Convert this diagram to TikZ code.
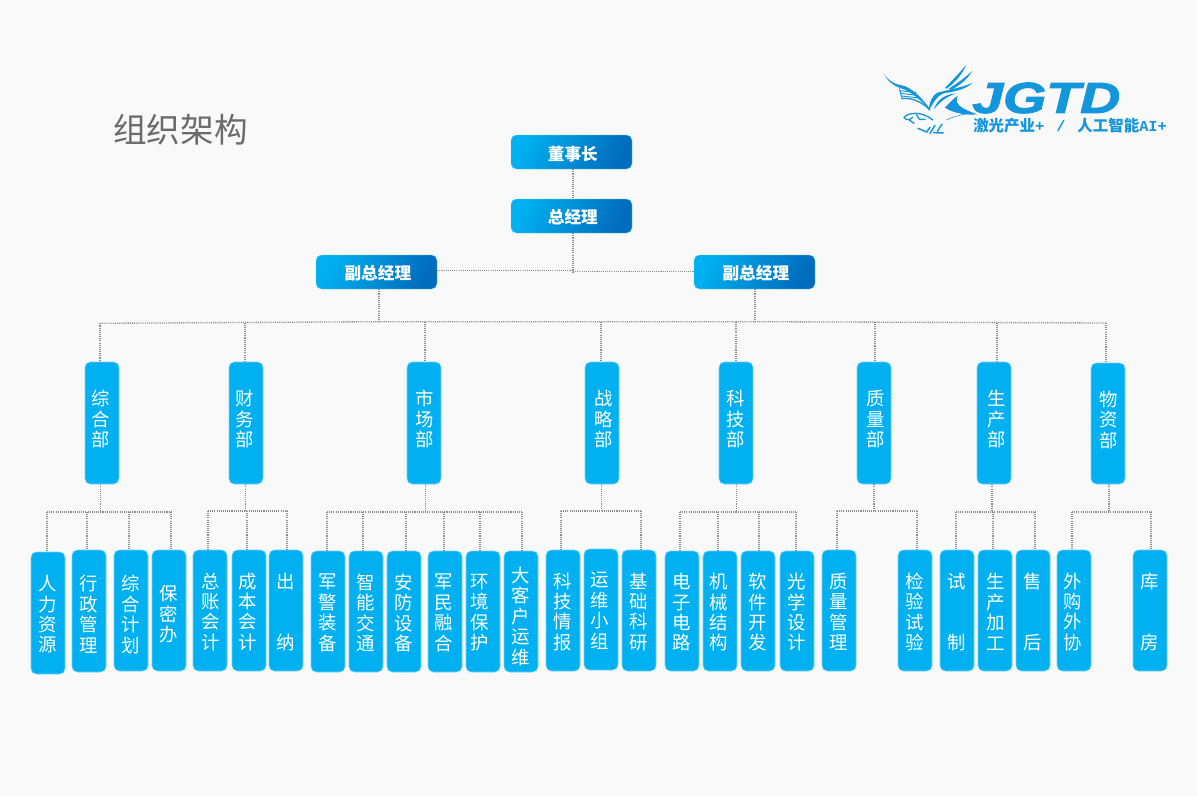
\documentclass[tikz,border=0pt]{standalone}
\usepackage{fontspec}
\setmainfont{Noto Sans CJK SC}
\newfontfamily\logofont{Liberation Sans}[BoldItalicFeatures={FakeBold=2.2}]
\newfontfamily\monofont{Liberation Mono}
\usetikzlibrary{calc}
\definecolor{bgc}{HTML}{F9F9F9}
\definecolor{boxc}{HTML}{00B0F0}
\definecolor{boxedge}{HTML}{6FD3F7}
\definecolor{darkc}{HTML}{006CBC}
\definecolor{logoc}{HTML}{1396DB}
\definecolor{linec}{HTML}{8C8C8C}
\definecolor{titlec}{HTML}{6A6A6A}
% dx (px), dy (pt), lines
\newcommand\VT[3]{\makebox[0pt][c]{\kern#1\dimexpr1.5pt\relax\raisebox{\dimexpr#2-4.55pt\relax}[0pt][0pt]{\parbox[c]{24pt}{\lineskiplimit=-100pt\baselineskip=15.35pt\parindent=0pt\centering #3\par}}}}
\newcommand\TT[2]{\kern2pt\raisebox{#1}[0pt][0pt]{#2}}
\newcommand\BL{\mbox{}}
\tikzset{
  conn/.style={draw=linec,line width=1pt,dash pattern=on 0.8pt off 0.8pt},
  bluebox/.style={fill=boxc,draw=boxedge,line width=0.4pt,rounded corners=4pt,inner sep=0pt,text=white,
     font=\fontsize{13.8}{15.35}\selectfont},
  topbox/.style={left color=boxc,right color=darkc,shading angle=65,draw=boxedge,line width=0.3pt,rounded corners=4pt,
     inner sep=0pt,text=white,font=\fontsize{12.5}{14}\selectfont\bfseries,minimum width=90.75pt,minimum height=25.5pt},
  logopen/.style={draw=logoc,line width=0.7pt,line cap=round,fill=none},
  logofill/.style={fill=logoc,draw=none}
}
\newcommand\Unit[7]{% name, l, t, b, dx(px), dy(pt), text
  \node[bluebox,minimum width=25.5pt,minimum height={(#4-#3)*0.75pt}] (#1) at ({#2+17},{(#3+#4)/2}) {\VT{#5}{#6}{#7}};}
\newcommand\Top[5]{% name, cx, cy, raise, text
  \node[topbox] (#1) at (#2,#3) {\TT{#4}{#5}};}
% parent, trunk x, bus y, bus left, bus right, drops
\newcommand\Group[6]{%
  \coordinate (tr) at (#2,#3);
  \coordinate (bl) at (#4,#3);
  \coordinate (br) at (#5,#3);
  \draw[conn] (#1.south -| tr) -- (tr);
  \draw[conn] (bl) -- (br);
  \foreach \n/\xx in {#6} {
    \coordinate (dp) at (\xx,#3);
    \draw[conn] (dp) -- (dp |- \n.north);
  }
}
\begin{document}
\begin{tikzpicture}[x=0.75pt,y=-0.75pt]
\fill[bgc] (0,0) rectangle (1197,796);
\useasboundingbox (0,0) rectangle (1197,796);

\node[text=titlec,font=\fontsize{25.2}{30}\selectfont,inner sep=0pt] (title) at (180.5,130) {组织架构};

% top
\Top{dsz}{571.5}{152}{-6.4pt}{董事长}
\Top{zjl}{571.5}{216}{-5.4pt}{总经理}
\Top{vpl}{376.5}{272}{-5.6pt}{副总经理}
\Top{vpr}{754.5}{272}{-5.6pt}{副总经理}

% departments
\Unit{d1}{85}{362}{484}{-1}{3.75pt}{综\\合\\部}
\Unit{d2}{229}{362}{484}{-1}{3.75pt}{财\\务\\部}
\Unit{d3}{407}{362}{484}{1}{3.75pt}{市\\场\\部}
\Unit{d4}{585}{362}{484}{1.5}{3.75pt}{战\\略\\部}
\Unit{d5}{719}{362}{484}{0}{3.75pt}{科\\技\\部}
\Unit{d6}{857}{362}{484}{1.5}{3.75pt}{质\\量\\部}
\Unit{d7}{977}{362}{484}{2.5}{3.75pt}{生\\产\\部}
\Unit{d8}{1091}{363}{484}{1}{3.75pt}{物\\资\\部}

% leaves
\Unit{a1}{31}{552}{674}{0}{0pt}{人\\力\\资\\源}
\Unit{a2}{72}{550}{672}{0}{-1.5pt}{行\\政\\管\\理}
\Unit{a3}{114}{550}{671}{0}{-1.9pt}{综\\合\\计\\划}
\Unit{a4}{152}{550}{671}{-0.7}{-1.9pt}{保\\密\\办}
\Unit{b1}{193}{550}{671}{1}{0pt}{总\\账\\会\\计}
\Unit{b2}{232}{550}{671}{-1}{0pt}{成\\本\\会\\计}
\Unit{b3}{269}{550}{671}{0}{0pt}{出\\\BL\\\BL\\纳}
\Unit{c1}{311}{551}{672}{0}{0pt}{军\\警\\装\\备}
\Unit{c2}{349}{551}{672}{0}{0pt}{智\\能\\交\\通}
\Unit{c3}{387}{551}{672}{0}{0pt}{安\\防\\设\\备}
\Unit{c4}{428}{551}{672}{-1}{0pt}{军\\民\\融\\合}
\Unit{c5}{466}{551}{672}{-3}{0pt}{环\\境\\保\\护}
\Unit{c6}{504}{551}{672}{0}{-2.6pt}{大\\客\\户\\运\\维}
\Unit{e1}{546}{550}{671}{0}{0pt}{科\\技\\情\\报}
\Unit{e2}{584}{549}{670}{-1}{0pt}{运\\维\\小\\组}
\Unit{e3}{622}{550}{671}{0}{0pt}{基\\础\\科\\研}
\Unit{f1}{665}{551}{671}{0}{0pt}{电\\子\\电\\路}
\Unit{f2}{703}{551}{671}{-1}{0pt}{机\\械\\结\\构}
\Unit{f3}{741}{551}{671}{0}{0pt}{软\\件\\开\\发}
\Unit{f4}{780}{551}{671}{0}{0pt}{光\\学\\设\\计}
\Unit{g1}{822}{550}{671}{0}{0pt}{质\\量\\管\\理}
\Unit{g2}{898}{550}{671}{0}{0pt}{检\\验\\试\\验}
\Unit{h1}{940}{550}{671}{0}{0pt}{试\\\BL\\\BL\\制}
\Unit{h2}{978}{550}{671}{1}{0pt}{生\\产\\加\\工}
\Unit{h3}{1016}{550}{671}{-0.7}{0pt}{售\\\BL\\\BL\\后}
\Unit{i1}{1057}{550}{671}{-1}{0pt}{外\\购\\外\\协}
\Unit{i2}{1133}{550}{671}{-0.7}{0pt}{库\\\BL\\\BL\\房}

% upper connectors
\coordinate (hub) at (573,271.7);
\coordinate (hubl) at (573,270.5);
\draw[conn] (dsz.south -| hub) -- (zjl.north -| hub);
\draw[conn] (zjl.south -| hub) -- (hub);
\draw[conn] (vpl.east |- hubl) -- (hubl);
\draw[conn] (hub) -- (vpr.west |- hub);
\coordinate (busl) at (100,323.3);
\coordinate (busa) at (379,321.7);
\coordinate (busb) at (755,321.7);
\coordinate (busr) at (1106,323);
\draw[conn] (vpl.south -| busa) -- (busa);
\draw[conn] (vpr.south -| busb) -- (busb);
\draw[conn] (busl) -- (busa) -- (busb) -- (busr);
\foreach \n/\xx/\yy in {d1/100/323.3,d2/245/322.5,d3/425/321.7,d4/601/321.7,d5/736/321.7,d6/875/322,d7/997/322.5,d8/1106/323}{
  \coordinate (dp) at (\xx,\yy);
  \draw[conn] (dp) -- (dp |- \n.north);
}

% lower connectors
\Group{d1}{100.5}{512}{47}{171}{a1/47,a2/87,a3/129,a4/171}
\Group{d2}{245.5}{511}{208}{287}{b1/208,b2/247,b3/287}
\Group{d3}{425.5}{512}{327}{522}{c1/327,c2/363,c3/406,c4/444,c5/480,c6/522}
\Group{d4}{601.5}{511}{561}{641}{e1/561,e3/641}
\Group{d5}{736.5}{512}{680}{796}{f1/680,f2/718,f3/759,f4/796}
\Group{d6}{874}{511}{837}{917}{g1/837,g2/917}
\Group{d7}{992}{512}{956}{1035}{h1/956,h2/993,h3/1035}
\Group{d8}{1109}{512}{1072}{1151}{i1/1072,i2/1151}

% logo text
\node[anchor=west,inner sep=0pt,text=logoc,font=\fontsize{32.5}{34}\logofont\bfseries\itshape\selectfont] (jgtd) at (972,98) {\scalebox{1.28}[1]{JGTD}};
\node[anchor=west,inner sep=0pt,text=logoc,font=\fontsize{11.6}{13}\selectfont\bfseries] (slog) at (973,125.5) {激光产业{\monofont +\, / \,}人工智能{\monofont\fontsize{11.5}{13}\selectfont AI+}};

% eagle
\begin{scope}[shift={(880,60)},x=0.25pt,y=-0.25pt]
\fill[logofill] (12,42) .. controls (25,62) and (45,74) .. (65,76) .. controls (92,80) and (128,115) .. (152,150) .. controls (122,122) and (92,92) .. (60,84) .. controls (40,78) and (20,60) .. (12,42) -- cycle;
\draw[logopen] (58,86) -- (66,116) (60,92) -- (108,98) (62,100) -- (112,106) (64,108) -- (118,114);
\draw[logopen,line width=1pt] (66,116) .. controls (95,112) and (125,125) .. (150,150);
\fill[logofill] (195,84) .. controls (215,62) and (240,38) .. (258,15) .. controls (248,42) and (225,68) .. (200,86) -- cycle;
\fill[logofill] (206,86) .. controls (235,68) and (258,50) .. (277,33) .. controls (262,58) and (238,78) .. (212,90) -- cycle;
\fill[logofill] (172,98) .. controls (210,88) and (250,82) .. (277,68) .. controls (258,90) and (215,96) .. (190,100) .. controls (170,108) and (160,130) .. (146,152) .. controls (148,125) and (158,105) .. (172,98) -- cycle;
\fill[logofill] (162,148) .. controls (170,122) and (190,104) .. (228,100) .. controls (200,110) and (180,125) .. (162,148) -- cycle;
\fill[logofill] (195,143) .. controls (208,128) and (220,117) .. (233,107) .. controls (226,122) and (232,136) .. (248,144) .. controls (262,152) and (278,158) .. (292,163) .. controls (262,166) and (225,162) .. (195,143) -- cycle;
\draw[logopen,line width=0.4pt] (200,180) .. controls (220,170) and (245,163) .. (272,160);
\draw[logopen,line width=1pt] (72,172) .. controls (82,160) and (110,156) .. (132,165) .. controls (142,169) and (150,172) .. (158,180);
\draw[logopen,line width=1pt] (72,172) .. controls (78,182) and (90,180) .. (98,172) (88,180) -- (102,190) (110,164) -- (118,178) (118,178) -- (135,178);
\draw[logopen,line width=1.1pt] (114,205) -- (140,216) -- (150,202) (150,220) -- (165,196) (160,218) -- (190,219) (172,214) -- (186,192);
\end{scope}
\end{tikzpicture}
\end{document}
